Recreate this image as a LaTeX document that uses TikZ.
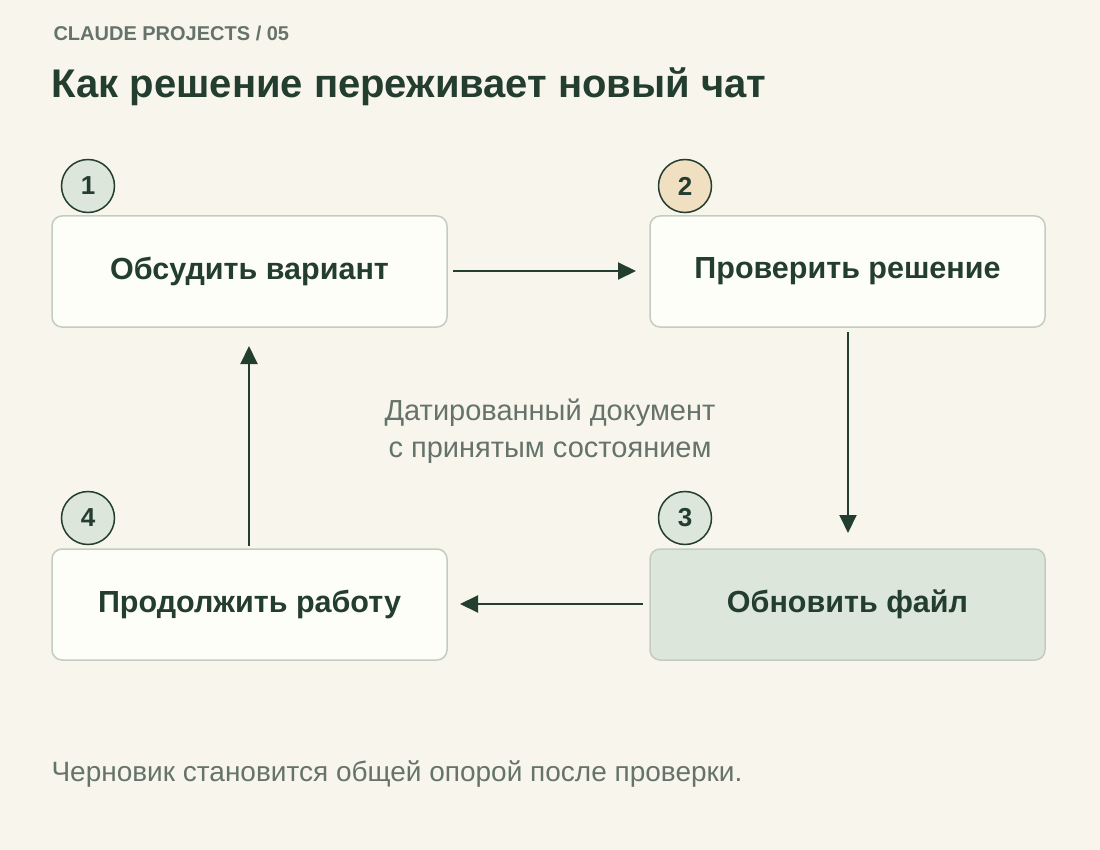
\documentclass[tikz,border=0pt]{standalone}
\usepackage{fontspec}
\setmainfont{Liberation Sans}
\usetikzlibrary{arrows.meta}
\definecolor{bg}{HTML}{F8F6EC}
\definecolor{boxfill}{HTML}{FEFEF9}
\definecolor{boxline}{HTML}{C3CDBF}
\definecolor{green}{HTML}{DCE6DA}
\definecolor{tan}{HTML}{F0DFC1}
\definecolor{dark}{HTML}{233D2E}
\definecolor{muted}{HTML}{66736A}
\begin{document}
\begin{tikzpicture}[x=1pt,y=-1pt,
  box/.style={draw=boxline,line width=1.5pt,rounded corners=10pt,fill=boxfill,minimum width=395pt,minimum height=111pt,font=\fontsize{30.5}{36}\selectfont\bfseries,text=dark},
  num/.style={circle,draw=dark,line width=1.5pt,fill=green,minimum size=53pt,inner sep=0pt,font=\fontsize{26}{30}\selectfont\bfseries,text=dark},
  arr/.style={draw=dark,line width=2pt,-{Triangle[length=18pt,width=17pt]}}]
\fill[bg] (0,0) rectangle (1100,850);
\node[anchor=west,font=\fontsize{20}{24}\selectfont\bfseries,text=muted] (hdr) at (50,33) {CLAUDE PROJECTS / 05};
\node[anchor=west,font=\fontsize{40}{46}\selectfont\bfseries,text=dark] (title) at (48,87) {Как решение переживает новый чат};
\node[box] (b1) at (249.5,271.5) {Обсудить вариант};
\node[box] (b2) at (847.5,271.5) {Проверить решение};
\node[box,fill=green] (b3) at (847.5,604.5) {Обновить файл};
\node[box] (b4) at (249.5,604.5) {Продолжить работу};
\node[num] (n1) at (88,186) {1};
\node[num,fill=tan] (n2) at (685,186) {2};
\node[num] (n3) at (685,518) {3};
\node[num] (n4) at (88,518) {4};
\coordinate (a1s) at (453,271); \coordinate (a1e) at (636,271);
\coordinate (a2s) at (848,332); \coordinate (a2e) at (848,533);
\coordinate (a3s) at (643,604); \coordinate (a3e) at (460,604);
\coordinate (a4s) at (249,546); \coordinate (a4e) at (249,346);
\draw[arr] (a1s) -- (a1e);
\draw[arr] (a2s) -- (a2e);
\draw[arr] (a3s) -- (a3e);
\draw[arr] (a4s) -- (a4e);
\node[align=center,font=\fontsize{29}{37}\selectfont,text=muted] (mid) at (550,431) {Датированный документ\\с принятым состоянием};
\node[anchor=west,font=\fontsize{28}{32}\selectfont,text=muted] (foot) at (48,774) {Черновик становится общей опорой после проверки.};
\end{tikzpicture}
\end{document}
